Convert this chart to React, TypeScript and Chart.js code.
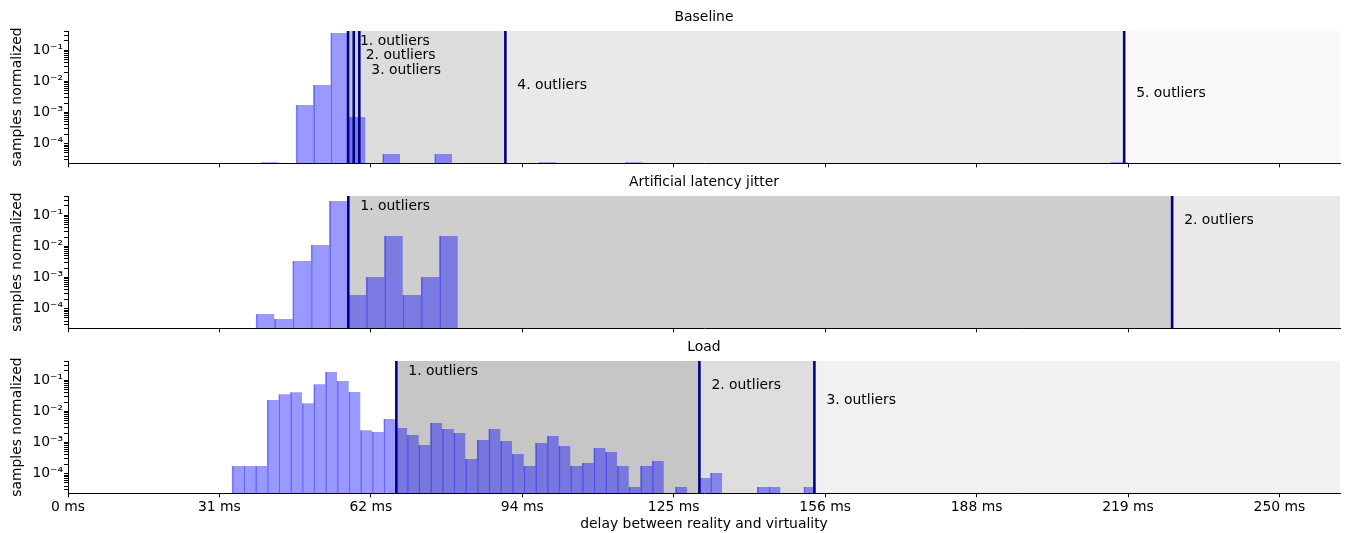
import React, { useEffect, useRef } from 'react';
import { Chart, registerables } from 'chart.js';

Chart.register(...registerables);

// ---------- shared axes ----------
const X_MIN = 0;
const X_MAX = 262.5;
const X_TICK_VALUES = [0, 31.25, 62.5, 93.75, 125, 156.25, 187.5, 218.75, 250];
const X_TICK_LABELS = ['0 ms', '31 ms', '62 ms', '94 ms', '125 ms', '156 ms', '188 ms', '219 ms', '250 ms'];
const X_TITLE = 'delay between reality and virtuality';
const Y_TITLE = 'samples normalized';
const Y_MIN = 2.33e-5;
const Y_MAX = 0.418;

// ---------- Baseline ----------
const baselineTitle = 'Baseline';
const baselineBinStart = 47.06; // ms, left edge of bin 0
const baselineBinWidth = 3.577; // ms
const baselineBins = [-2, 0, 1, 2, 3, 5, 8, 14, 19, 47];
const baselineValues = [2.5e-5, 1.75e-3, 7.7e-3, 0.36, 7.2e-4, 4.6e-5, 4.6e-5, 2.5e-5, 2.5e-5, 2.5e-5];
const baselineThresholds = [57.79, 58.97, 60.12, 90.26, 217.96];
const baselineLabels = ['1. outliers', '2. outliers', '3. outliers', '4. outliers', '5. outliers'];
const baselineLabelY = [0.2, 0.0667, 0.0222, 0.0074, 0.004];

// ---------- Artificial latency jitter ----------
const jitterTitle = 'Artificial latency jitter';
const jitterBinStart = 38.8;
const jitterBinWidth = 3.785;
const jitterValues = [6.7e-5, 4.6e-5, 3.4e-3, 0.0111, 0.288, 2.74e-4, 1.04e-3, 0.0216, 2.74e-4, 1.04e-3, 0.0216];
const jitterThresholds = [57.85, 227.86];
const jitterLabels = ['1. outliers', '2. outliers'];
const jitterLabelY = [0.2, 0.0667];

// ---------- Load ----------
const loadTitle = 'Load';
const loadBinStart = 33.85;
const loadBinWidth = 2.408;
const loadValues = [
  1.76e-4, 1.76e-4, 1.76e-4, 0.0233, 0.0355, 0.0412, 0.0182, 0.0745, 0.185, 0.095,
  0.0421, 0.00247, 0.00218, 0.0057, 0.00293, 0.00175, 8.3e-4, 0.00424, 0.00272, 0.00202,
  2.95e-4, 0.00121, 0.00272, 0.00112, 4.27e-4, 1.76e-4, 9.65e-4, 0.00162, 7.7e-4, 1.76e-4,
  2.19e-4, 6.67e-4, 4.96e-4, 1.76e-4, 3.7e-5, 1.76e-4, 2.55e-4, 0, 3.7e-5, 0,
  7.2e-5, 1.05e-4, 0, 0, 0, 3.7e-5, 3.7e-5, 0, 0, 3.7e-5,
];
const loadThresholds = [67.76, 130.3, 154.03];
const loadLabels = ['1. outliers', '2. outliers', '3. outliers'];
const loadLabelY = [0.2, 0.0667, 0.0222];

// ---------- styles ----------
const FONT = "'DejaVu Sans', sans-serif";
const FS = 13.9;
const BAR_FILL = 'rgba(0,0,255,0.4)';
const BAR_EDGE = 'rgba(0,0,255,0.47)';
const LINE_COLOR = '#00008b';

type PanelCfg = {
  title: string;
  binStart: number;
  binWidth: number;
  bins: number[];
  values: number[];
  thresholds: number[];
  labels: string[];
  labelY: number[];
  spanColors: string[];
  showX: boolean;
  top: number;
  height: number;
};

const panels: PanelCfg[] = [
  {
    title: baselineTitle, binStart: baselineBinStart, binWidth: baselineBinWidth,
    bins: baselineBins, values: baselineValues, thresholds: baselineThresholds,
    labels: baselineLabels, labelY: baselineLabelY,
    spanColors: ['#c4c4c4', '#d0d0d0', '#dcdcdc', '#e9e9e9', '#f8f8f8'],
    showX: false, top: 0, height: 175,
  },
  {
    title: jitterTitle, binStart: jitterBinStart, binWidth: jitterBinWidth,
    bins: jitterValues.map((_, i) => i), values: jitterValues, thresholds: jitterThresholds,
    labels: jitterLabels, labelY: jitterLabelY,
    spanColors: ['#cecece', '#e9e9e9'],
    showX: false, top: 165, height: 175,
  },
  {
    title: loadTitle, binStart: loadBinStart, binWidth: loadBinWidth,
    bins: loadValues.map((_, i) => i), values: loadValues, thresholds: loadThresholds,
    labels: loadLabels, labelY: loadLabelY,
    spanColors: ['#c6c6c6', '#dedede', '#f1f1f1'],
    showX: true, top: 330, height: 203,
  },
];

const PLOT_BOTTOM = 163.3; // within each canvas

const SUP: Record<string, string> = { '-': '⁻', '0': '⁰', '1': '¹', '2': '²', '3': '³', '4': '⁴', '5': '⁵', '6': '⁶', '7': '⁷', '8': '⁸', '9': '⁹' };
const isPow10 = (v: number) => Math.abs(Math.log10(v) - Math.round(Math.log10(v))) < 1e-6;
const fmtPow = (v: number) => '10' + String(Math.round(Math.log10(v))).split('').map((c) => SUP[c]).join('');

const Y_TICKS: number[] = [];
for (let e = -6; e <= 0; e++) for (let m = 1; m <= 9; m++) Y_TICKS.push(m * Math.pow(10, e));

const outlierPlugin = {
  id: 'outliers',
  beforeDraw(chart: any, _a: any, opts: any) {
    const { ctx, chartArea: a, scales } = chart;
    const x = scales.x;
    const th: number[] = opts.thresholds;
    ctx.save();
    ctx.beginPath();
    ctx.rect(a.left, a.top, a.right - a.left, a.bottom - a.top);
    ctx.clip();
    th.forEach((t, i) => {
      const x0 = x.getPixelForValue(t);
      const x1 = i + 1 < th.length ? x.getPixelForValue(th[i + 1]) : a.right;
      ctx.fillStyle = opts.spanColors[i];
      ctx.fillRect(x0, a.top, x1 - x0, a.bottom - a.top);
    });
    ctx.restore();
  },
  afterDatasetsDraw(chart: any, _a: any, opts: any) {
    const { ctx, chartArea: a, scales } = chart;
    const x = scales.x;
    const y = scales.y;
    const th: number[] = opts.thresholds;
    ctx.save();
    ctx.strokeStyle = LINE_COLOR;
    ctx.lineWidth = 2.6;
    th.forEach((t) => {
      const px = x.getPixelForValue(t);
      ctx.beginPath();
      ctx.moveTo(px, a.top);
      ctx.lineTo(px, a.bottom);
      ctx.stroke();
    });
    ctx.fillStyle = '#000';
    ctx.font = `${FS}px ${FONT}`;
    ctx.textAlign = 'left';
    ctx.textBaseline = 'middle';
    th.forEach((t, i) => {
      ctx.fillText(opts.labels[i], x.getPixelForValue(t) + 12, y.getPixelForValue(opts.labelY[i]));
    });
    ctx.restore();
  },
};

function makeConfig(p: PanelCfg): any {
  const points = p.bins
    .map((n, i) => ({ x: p.binStart + (n + 0.5) * p.binWidth, y: p.values[i] }))
    .filter((d) => d.y > 0);
  const axisHeight = p.height - PLOT_BOTTOM;
  return {
    type: 'bar',
    data: {
      datasets: [
        {
          data: points,
          backgroundColor: BAR_FILL,
          borderColor: BAR_EDGE,
          borderWidth: { left: 1, right: 0, top: 0, bottom: 0 },
          borderSkipped: false,
          barPercentage: 1,
          categoryPercentage: 1,
        },
      ],
    },
    options: {
      responsive: false,
      animation: false,
      devicePixelRatio: 1,
      layout: { padding: { left: 0, right: 6, top: 0, bottom: 0 } },
      plugins: {
        legend: { display: false },
        tooltip: { enabled: false },
        title: {
          display: true,
          text: p.title,
          fullSize: false,
          color: '#000',
          font: { family: FONT, size: FS, weight: 'normal' },
          padding: { top: 8.66, bottom: 5.66 },
        },
        outliers: {
          thresholds: p.thresholds,
          labels: p.labels,
          labelY: p.labelY,
          spanColors: p.spanColors,
        },
      },
      scales: {
        x: {
          type: 'linear',
          min: X_MIN,
          max: X_MAX,
          offset: false,
          afterBuildTicks: (s: any) => {
            s.ticks = X_TICK_VALUES.map((v) => ({ value: v }));
          },
          afterFit: (s: any) => {
            s.height = axisHeight;
          },
          ticks: {
            autoSkip: false,
            maxRotation: 0,
            padding: 1.4,
            color: '#000',
            font: { family: FONT, size: FS },
            callback: (_v: any, i: number) => (p.showX ? X_TICK_LABELS[i] : ''),
          },
          grid: { drawOnChartArea: false, offset: false, drawTicks: true, tickLength: 4, color: '#000', tickColor: '#000' },
          border: { display: true, color: '#000', width: 1 },
          title: {
            display: p.showX,
            text: X_TITLE,
            color: '#000',
            font: { family: FONT, size: FS },
            padding: { top: 0, bottom: 0.4 },
          },
        },
        y: {
          type: 'logarithmic',
          min: Y_MIN,
          max: Y_MAX,
          beginAtZero: false,
          afterBuildTicks: (s: any) => {
            s.ticks = Y_TICKS.filter((v) => v >= Y_MIN && v <= Y_MAX).map((v) => ({ value: v, major: false }));
          },
          afterFit: (s: any) => {
            s.width = 68;
          },
          ticks: {
            autoSkip: false,
            padding: 1,
            color: '#000',
            font: { family: FONT, size: FS },
            callback: (v: any) => (isPow10(Number(v)) ? fmtPow(Number(v)) : ''),
          },
          grid: { drawOnChartArea: false, drawTicks: true, tickLength: 4, color: '#000', tickColor: '#000' },
          border: { display: true, color: '#000', width: 1 },
          title: {
            display: true,
            text: Y_TITLE,
            color: '#000',
            font: { family: FONT, size: FS },
            padding: { top: 9.2, bottom: 0 },
          },
        },
      },
    },
    plugins: [outlierPlugin],
  };
}

function Panel({ cfg }: { cfg: PanelCfg }) {
  const ref = useRef<HTMLCanvasElement>(null);
  useEffect(() => {
    if (!ref.current) return;
    const chart = new Chart(ref.current, makeConfig(cfg));
    return () => chart.destroy();
  }, [cfg]);
  return (
    <canvas
      ref={ref}
      width={1346}
      height={cfg.height}
      style={{ position: 'absolute', left: 0, top: cfg.top, width: 1346, height: cfg.height }}
    />
  );
}

export default function App() {
  return (
    <div style={{ position: 'absolute', left: 0, top: 0, width: 1346, height: 533, background: '#fff', overflow: 'hidden' }}>
      {panels.map((p) => (
        <Panel key={p.title} cfg={p} />
      ))}
    </div>
  );
}
